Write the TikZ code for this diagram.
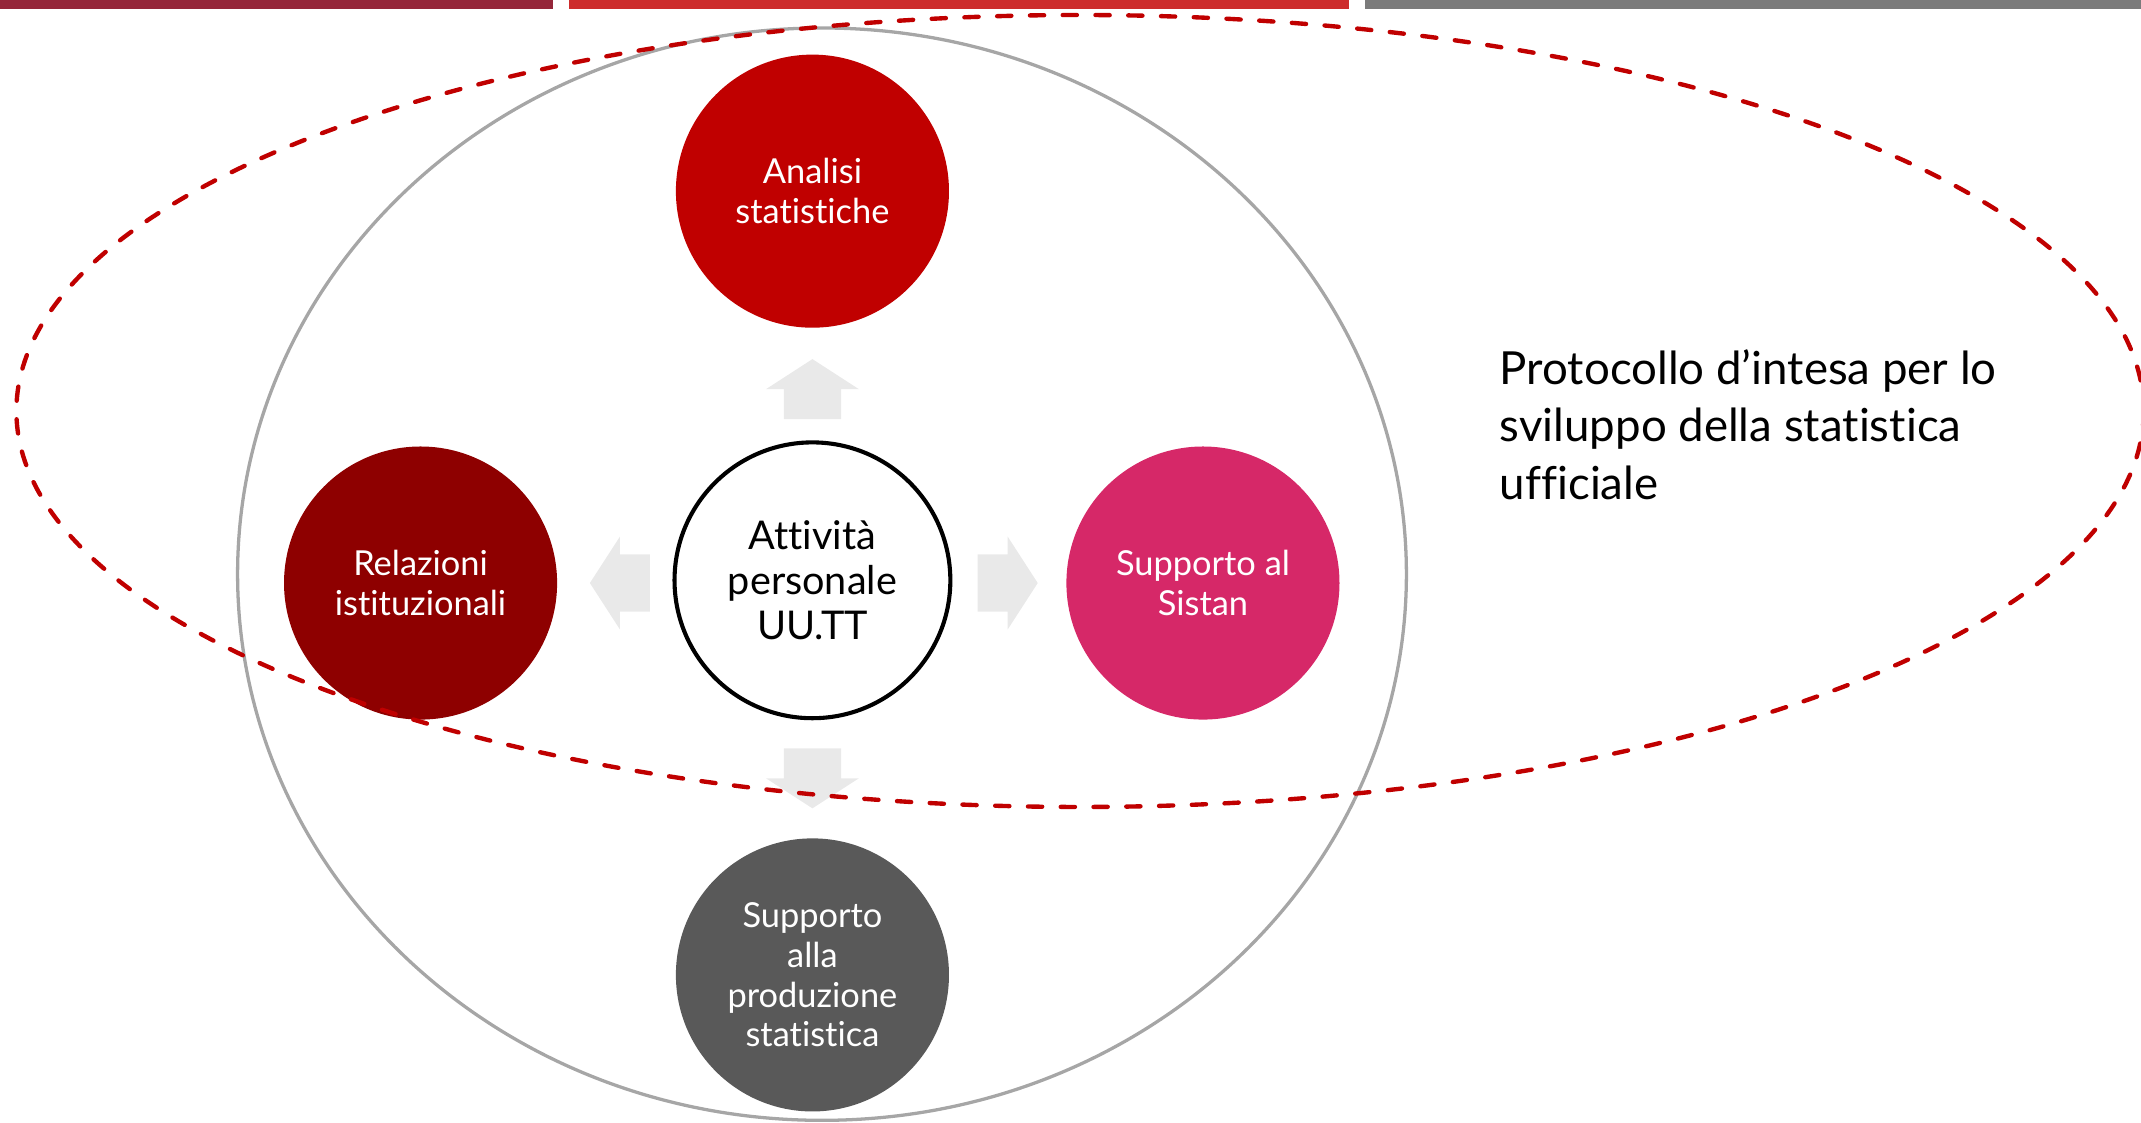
\documentclass[tikz,border=0pt]{standalone}
\usepackage{fontspec}
\setmainfont[Ligatures=NoCommon]{Lato}
\definecolor{barA}{RGB}{149,38,58}
\definecolor{barB}{RGB}{205,44,44}
\definecolor{barC}{RGB}{123,123,123}
\definecolor{cAnalisi}{RGB}{192,0,0}
\definecolor{cRel}{RGB}{142,0,0}
\definecolor{cSistan}{RGB}{214,40,104}
\definecolor{cProd}{RGB}{89,89,89}
\definecolor{cArrow}{RGB}{233,233,233}
\definecolor{cOuter}{RGB}{166,166,166}
\definecolor{cDash}{RGB}{192,0,0}
\tikzset{
  topic/.style={circle, minimum size=100pt, inner sep=0pt, text=white, align=center,
    font=\fontsize{12.6}{14.5}\selectfont},
  hub/.style={circle, draw=black, line width=1.5pt, fill=white, minimum size=101pt, inner sep=0pt,
    align=center, font=\fontsize{14.5}{16.5}\selectfont},
  blockarrow/.style={fill=cArrow},
  outerring/.style={draw=cOuter, line width=1.2pt},
  protocol/.style={draw=cDash, line width=1.6pt, line cap=round, dash pattern=on 5.2pt off 6.8pt},
}
\begin{document}
\begin{tikzpicture}[x=0.5pt,y=-0.5pt]
\useasboundingbox (0,0) rectangle (1568,822);
% top bars
\fill[barA] (0,0) rectangle (405,6.6);
\fill[barB] (417,0) rectangle (988,6.6);
\fill[barC] (1000,0) rectangle (1568,6.6);
% outer gray ellipse
\draw[outerring] (602,420.5) ellipse [x radius=428, y radius=400];
% block arrows
\fill[blockarrow] (574,307) -- (574,285) -- (561,285) -- (595,263) -- (629,285) -- (616,285) -- (616,307) -- cycle;
\fill[blockarrow] (574,548) -- (574,570) -- (561,570) -- (595,592) -- (629,570) -- (616,570) -- (616,548) -- cycle;
\fill[blockarrow] (476,406) -- (454,406) -- (454,393) -- (432,427) -- (454,461) -- (454,448) -- (476,448) -- cycle;
\fill[blockarrow] (716,406) -- (738,406) -- (738,393) -- (760,427) -- (738,461) -- (738,448) -- (716,448) -- cycle;
% circles
\node[topic, fill=cAnalisi] (analisi) at (595,140) {Analisi\\statistiche};
\node[topic, fill=cRel] (relazioni) at (308,427) {Relazioni\\istituzionali};
\node[topic, fill=cSistan] (sistan) at (881,427) {Supporto al\\Sistan};
\node[topic, fill=cProd] (produzione) at (595,714) {Supporto\\alla\\produzione\\statistica};
\node[hub] (hub) at (595,425) {Attività\\personale\\UU.TT};
% dashed ellipse
\draw[protocol] (791,301) ellipse [x radius=779, y radius=290];
% label
\node[anchor=west, inner sep=0pt, align=left, font=\fontsize{16.7}{21}\selectfont] (label) at (1098,311)
  {Protocollo d’intesa per lo\\sviluppo della statistica\\ufficiale};
\end{tikzpicture}
\end{document}
